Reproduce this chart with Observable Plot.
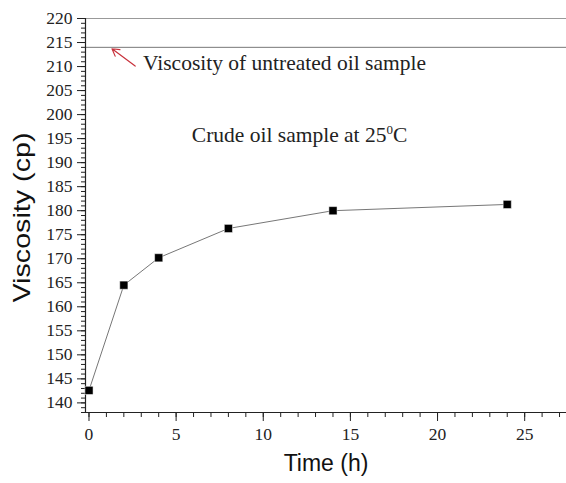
<!DOCTYPE html>
<html>
<head>
<meta charset="utf-8">
<script src="https://cdn.jsdelivr.net/npm/d3@7"></script>
<script src="https://cdn.jsdelivr.net/npm/@observablehq/plot@0.6"></script>
<style>
  html, body { margin: 0; padding: 0; background: #fff; }
</style>
</head>
<body>
<div id="chart"></div>
<script>
// Data
const time = [0, 2, 4, 8, 14, 24];
const viscosity = [142.6, 164.5, 170.2, 176.3, 180.0, 181.3];
const untreatedViscosity = 214;
const xMajorTicks = [0, 5, 10, 15, 20, 25];
const yMajorTicks = [140, 145, 150, 155, 160, 165, 170, 175, 180, 185, 190, 195, 200, 205, 210, 215, 220];
const xLabel = "Time (h)";
const yLabel = "Viscosity (cp)";
const annotationText = "Viscosity of untreated oil sample";
const annotationPos = {x: 3.1, y: 210.8};
const arrowFrom = {x: 2.65, y: 210.1};
const arrowTo = {x: 1.32, y: 213.7};
const noteParts = ["Crude oil sample at 25", "0", "C"];
const notePos = {x: 5.9, y: 195.8};

const xDomain = [-0.2, 27.4];
const yDomain = [138, 220];

const data = time.map((t, i) => ({t, v: viscosity[i]}));
const serif = "Liberation Serif, Times New Roman, serif";
const sans = "Liberation Sans, Arial, sans-serif";

const chart = Plot.plot({
  width: 566,
  height: 483,
  marginLeft: 85,
  marginRight: 0,
  marginTop: 18,
  marginBottom: 71,
  style: {background: "#fff", color: "#222"},
  x: {domain: xDomain},
  y: {domain: yDomain},
  marks: [
    // reference lines
    Plot.ruleY([yDomain[1]], {stroke: "#999", strokeWidth: 1.2}),
    Plot.ruleY([untreatedViscosity], {stroke: "#777", strokeWidth: 1}),
    // minor ticks
    Plot.axisY(d3.range(138, 221, 1), {tickSize: 4, text: null, label: null, stroke: "#222"}),
    Plot.axisX(d3.range(0, 28, 1), {tickSize: 5, text: null, label: null, stroke: "#222"}),
    // major ticks
    Plot.axisY(yMajorTicks, {tickSize: 8, tickPadding: 5, label: null, fontSize: 17.5, fontFamily: serif, fontVariant: "normal"}),
    Plot.axisX(xMajorTicks, {tickSize: 9, tickPadding: 6, label: null, fontSize: 17.5, fontFamily: serif, fontVariant: "normal"}),
    // axis lines
    Plot.ruleX([xDomain[0]], {stroke: "#222", strokeWidth: 1.2}),
    Plot.ruleY([yDomain[0]], {stroke: "#222", strokeWidth: 1.2}),
    // data
    Plot.line(data, {x: "t", y: "v", stroke: "#777", strokeWidth: 1}),
    Plot.dot(data, {x: "t", y: "v", symbol: "square", r: 4.6, fill: "#000", stroke: "#fff", strokeWidth: 0.5}),
    // annotations
    Plot.arrow([0], {x1: () => arrowFrom.x, y1: () => arrowFrom.y, x2: () => arrowTo.x, y2: () => arrowTo.y,
      stroke: "#c8323c", strokeWidth: 1.2, headLength: 10, bend: 0}),
    Plot.text([annotationText], {x: () => annotationPos.x, y: () => annotationPos.y, text: d => d,
      textAnchor: "start", fontSize: 21.5, fontFamily: serif, fill: "#222"}),
    Plot.text([noteParts.join("")], {x: () => notePos.x, y: () => notePos.y, text: d => d,
      textAnchor: "start", fontSize: 21.5, fontFamily: serif, fill: "#222", className: "note"}),
    // axis titles
    Plot.text([yLabel], {frameAnchor: "left", text: d => d, rotate: -90, textAnchor: "middle", dx: -63, dy: 2,
      fontSize: 24, fontFamily: sans, fill: "#111", className: "ytitle"}),
    Plot.text([xLabel], {frameAnchor: "bottom", text: d => d, dy: 58,
      fontSize: 23, fontFamily: sans, fill: "#111"})
  ]
});
document.getElementById("chart").appendChild(chart);

// superscript in the note
const noteText = d3.select(chart).select("g.note text");
noteText.text(null);
noteText.append("tspan").text(noteParts[0]);
noteText.append("tspan").attr("dy", -8).attr("font-size", "13px").text(noteParts[1]);
noteText.append("tspan").attr("dy", 8).text(noteParts[2]);
// stretched y title as in the reference
d3.select(chart).select("g.ytitle text").attr("textLength", 170).attr("lengthAdjust", "spacingAndGlyphs");
</script>
</body>
</html>
